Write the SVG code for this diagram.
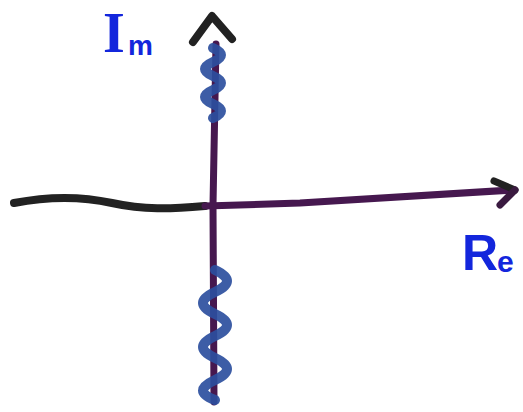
<svg xmlns="http://www.w3.org/2000/svg" width="523" height="412" viewBox="0 0 523 412">
<style>
.ax{fill:none;stroke:#46184f;stroke-width:7;stroke-linecap:round;stroke-linejoin:round}
.blk{fill:none;stroke:#222;stroke-width:8;stroke-linecap:round;stroke-linejoin:round}
.coil{fill:none;stroke:#2d4f9e;stroke-width:10;stroke-linecap:round;stroke-linejoin:round;opacity:0.92}
.lbl{font-family:"Liberation Sans",Arial,sans-serif;font-weight:bold;fill:#1326dc}
</style>
<rect width="523" height="412" fill="#fff"/>
<g id="connectors">
<path class="blk" d="M14 203 C 50 196, 80 196, 112 203 S 170 209, 205 206"/>
<path class="ax" d="M205 206 L 300 203 L 512 190"/>
<path class="blk" d="M494 181 L515 190" style="stroke-width:7"/>
<path class="ax" d="M515 190 L500 205" style="stroke:#3a1a40"/>
<path class="ax" d="M214 402 L213 205 L216 44"/>
<path class="blk" d="M193 42 L212 16 L232 39"/>
</g>
<g id="cut-upper">
<path class="coil" d="M213 48 q 16 7 0 14 t 0 14 t 0 14 t 0 14 t 0 14"/>
</g>
<g id="cut-lower">
<path class="coil" d="M215 270 q 24 11 0 22 t 0 22 t 0 22 t 0 22 t 0 22 t 0 20"/>
</g>
<g id="label-im">
<text class="lbl" x="103" y="52" font-size="56" style="font-family:'Liberation Serif',serif">I</text>
<text class="lbl" x="128" y="55" font-size="28">m</text>
</g>
<g id="label-re">
<text class="lbl" x="462" y="270" font-size="50">R</text>
<text class="lbl" x="497" y="272" font-size="30">e</text>
</g>
</svg>
